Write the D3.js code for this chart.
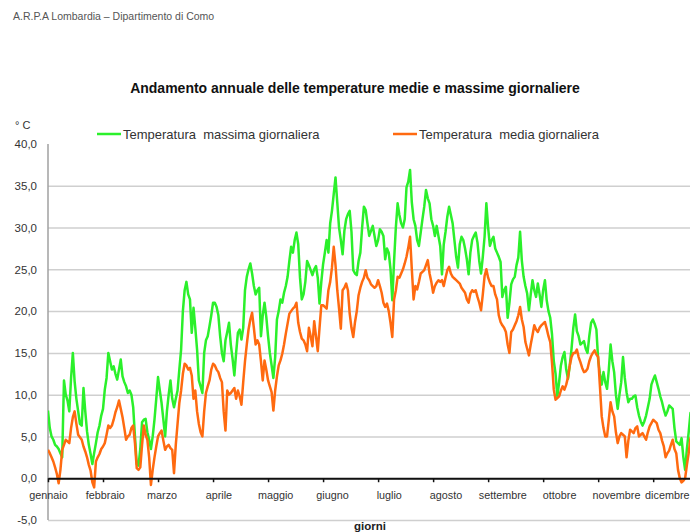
<!DOCTYPE html>
<html>
<head>
<meta charset="utf-8">
<script src="https://cdn.jsdelivr.net/npm/d3@7/dist/d3.min.js"></script>
<style>
  body { margin: 0; background: #fff; }
  svg text { font-family: "Liberation Sans", Arial, sans-serif; }
</style>
</head>
<body>
<svg id="chart" width="690" height="532"></svg>
<script>
// Month names shown along the day axis
const months = ["gennaio", "febbraio", "marzo", "aprile", "maggio", "giugno",
  "luglio", "agosto", "settembre", "ottobre", "novembre", "dicembre"];

// Daily maximum temperature (°C), day 1..365
const tmax = [
  8.1, 6.0, 5.0, 4.6, 4.0, 3.8, 3.5, 3.0, 2.5, 11.7,
  10.0, 9.3, 8.0, 12.0, 15.0, 11.6, 9.5, 8.0, 6.5, 6.3,
  10.8, 8.0, 5.6, 4.0, 2.9, 1.7, 3.0, 4.2, 5.5, 6.3,
  7.5, 8.3, 10.6, 12.0, 15.0, 14.0, 13.0, 13.4, 12.5, 11.8,
  13.0, 14.2, 12.2, 11.5, 11.0, 10.2, 10.5, 10.0, 8.5, 5.0,
  1.7, 1.5, 3.5, 6.7, 7.0, 7.1, 5.5, 4.6, 3.5, 5.0,
  7.0, 9.5, 12.1, 10.5, 9.0, 7.0, 5.0, 8.0, 10.0, 11.7,
  9.5, 8.5, 9.5, 10.5, 13.0, 15.4, 20.0, 22.5, 23.5, 22.0,
  21.4, 17.4, 20.4, 18.0, 15.4, 11.7, 11.0, 10.2, 15.0, 16.5,
  17.0, 18.2, 19.5, 21.0, 21.0, 20.5, 19.5, 17.0, 15.0, 14.0,
  16.5, 17.5, 18.6, 16.0, 14.3, 12.3, 15.0, 17.4, 17.8, 16.6,
  18.0, 22.5, 24.1, 25.0, 25.7, 24.5, 23.0, 22.0, 22.5, 22.8,
  17.0, 19.5, 21.0, 19.3, 17.0, 15.0, 13.5, 12.0, 14.5, 19.0,
  20.0, 21.4, 21.0, 22.2, 23.0, 24.1, 26.0, 27.7, 27.0, 28.5,
  29.4, 28.0, 24.0, 21.4, 22.0, 23.5, 26.0, 25.5, 24.9, 24.3,
  25.0, 25.4, 24.0, 20.9, 23.5, 25.6, 27.0, 28.5, 27.0, 30.5,
  32.0, 34.0, 36.0, 33.0, 30.0, 28.5, 26.8, 29.6, 31.0, 31.6,
  32.0, 29.5, 24.9, 24.5, 24.3, 26.0, 27.0, 30.0, 32.5, 32.1,
  30.5, 29.0, 29.6, 30.2, 29.0, 27.8, 28.5, 29.8, 29.5, 29.0,
  26.2, 27.5, 27.0, 25.0, 21.3, 26.0, 30.0, 32.9, 31.5, 30.5,
  30.0, 31.0, 34.8, 35.5, 36.9, 33.0, 31.0, 30.2, 28.5, 27.8,
  29.4, 31.0, 32.5, 34.5, 33.5, 32.9, 31.0, 30.2, 29.0, 30.2,
  29.0, 27.8, 24.4, 28.0, 29.5, 31.3, 32.5, 31.5, 30.5, 28.5,
  26.5, 25.2, 28.0, 28.9, 28.5, 27.5, 26.2, 24.4, 27.0, 28.5,
  29.0, 29.4, 28.2, 26.0, 24.5, 26.5, 28.9, 32.9, 30.0, 27.8,
  28.5, 28.9, 27.5, 27.0, 26.5, 25.9, 21.7, 22.5, 22.9, 19.2,
  21.0, 23.2, 23.8, 24.1, 25.5, 26.4, 29.5, 26.0, 24.1, 23.0,
  22.1, 20.1, 22.0, 23.7, 22.5, 21.7, 23.3, 22.0, 20.5, 22.5,
  23.7, 21.3, 20.0, 19.2, 17.2, 14.0, 12.5, 9.8, 11.5, 13.5,
  14.5, 15.1, 13.0, 11.9, 13.5, 15.5, 18.0, 19.6, 17.6, 17.0,
  16.0, 16.2, 16.4, 15.5, 15.0, 17.0, 18.6, 19.0, 18.5, 17.8,
  14.2, 12.5, 11.2, 12.7, 11.5, 10.7, 13.0, 16.0, 14.0, 12.7,
  10.0, 8.3, 10.0, 11.5, 14.5, 12.0, 10.3, 9.1, 9.5, 9.5,
  9.8, 9.9, 8.5, 7.5, 6.8, 6.3, 6.8, 7.5, 8.5, 9.5,
  11.2, 11.8, 12.3, 11.5, 10.7, 9.8, 9.1, 8.2, 7.5, 8.0,
  8.7, 8.5, 8.3, 6.0, 4.4, 4.2, 4.0, 4.8, 2.5, 1.0,
  3.5, 5.5, 7.8, 7.0, 6.5
];

// Daily mean temperature (°C), day 1..365
const tmed = [
  3.4, 3.0, 2.5, 2.0, 1.3, 0.5, -0.6, 1.0, 3.4, 4.0,
  4.6, 4.4, 4.2, 6.0, 7.3, 8.0, 6.5, 5.2, 4.9, 4.6,
  3.8, 3.2, 2.5, 1.6, 0.9, -0.5, -1.1, 2.0, 2.5, 2.9,
  3.5, 3.8, 4.2, 5.2, 6.3, 6.0, 6.3, 7.0, 7.9, 8.5,
  9.3, 8.3, 7.3, 6.0, 4.6, 5.0, 5.2, 6.0, 6.3, 4.2,
  1.2, 1.0, 1.3, 4.0, 6.3, 5.2, 4.6, 2.5, -0.8, 1.0,
  2.5, 3.8, 5.0, 5.4, 5.7, 4.5, 3.4, 3.8, 4.0, 3.6,
  3.4, 0.6, 4.0, 6.5, 9.0, 10.5, 12.5, 13.7, 13.5, 13.0,
  13.2, 12.3, 9.5, 10.5, 8.0, 6.5, 5.5, 5.0, 8.0, 10.2,
  11.0, 11.7, 13.0, 13.7, 13.5, 13.0, 12.7, 12.0, 11.5, 8.0,
  5.7, 10.5, 10.0, 10.2, 10.5, 10.8, 9.5, 10.5, 9.8, 8.8,
  11.5, 14.0, 16.0, 17.8, 19.0, 19.8, 18.0, 16.0, 16.5, 16.0,
  14.0, 11.7, 14.1, 13.0, 11.7, 11.0, 10.3, 8.1, 10.5, 12.2,
  13.5, 14.1, 14.9, 16.0, 17.3, 18.5, 19.7, 20.0, 20.3, 20.5,
  21.0, 18.6, 17.5, 16.7, 16.5, 16.0, 15.2, 18.0, 17.0, 15.8,
  18.8, 17.0, 15.2, 18.0, 20.7, 20.7, 20.5, 20.3, 22.5, 23.5,
  25.2, 27.7, 25.5, 22.5, 20.3, 17.9, 22.5, 22.8, 23.3, 22.5,
  19.7, 18.0, 16.9, 18.7, 20.0, 21.9, 22.8, 23.5, 24.0, 24.9,
  24.0, 23.7, 23.2, 23.0, 22.8, 23.0, 23.7, 23.0, 22.2, 21.0,
  20.5, 20.9, 20.0, 18.6, 16.9, 21.4, 22.5, 24.1, 24.0, 24.5,
  25.0, 25.7, 26.5, 27.6, 28.9, 25.0, 21.4, 23.0, 22.6, 23.5,
  24.5, 24.7, 24.9, 25.5, 26.1, 24.5, 23.5, 22.2, 23.0, 23.4,
  23.7, 23.5, 23.7, 23.0, 24.0, 24.9, 25.3, 24.5, 24.1, 23.9,
  23.7, 23.5, 23.3, 22.8, 22.5, 22.2, 21.4, 21.0, 22.1, 22.5,
  22.3, 22.5, 21.7, 21.0, 20.1, 22.0, 24.2, 25.0, 24.0, 23.4,
  23.0, 23.0, 22.0, 21.4, 19.5, 18.7, 18.3, 18.0, 17.5, 16.0,
  15.0, 17.5, 17.8, 18.3, 18.8, 19.5, 20.5, 19.0, 18.1, 16.3,
  15.5, 14.7, 16.0, 17.1, 18.3, 17.8, 17.5, 18.0, 18.3, 18.5,
  18.7, 17.9, 17.0, 16.3, 13.8, 10.6, 9.4, 9.6, 9.8, 10.5,
  11.0, 10.6, 11.2, 12.1, 13.5, 14.5, 15.0, 15.0, 15.4, 14.5,
  13.9, 13.2, 12.7, 12.8, 13.1, 14.0, 14.6, 15.0, 15.3, 14.8,
  14.5, 11.0, 7.4, 6.0, 5.0, 5.0, 7.0, 9.1, 8.0, 7.4,
  5.5, 4.2, 5.0, 5.4, 5.2, 5.0, 2.5, 4.5, 5.8, 5.6,
  5.4, 6.0, 6.2, 5.0, 5.2, 5.4, 5.0, 4.6, 5.5, 6.2,
  6.6, 7.0, 6.8, 6.6, 5.8, 5.4, 4.5, 3.8, 2.5, 3.0,
  3.3, 4.0, 4.6, 3.5, 3.0, 1.0, 0.0, -0.5, -0.3, 0.0,
  1.6, 3.0, 4.8, 4.0, 3.5
];

// Temperature axis ticks
const yTicks = [-5, 0, 5, 10, 15, 20, 25, 30, 35, 40];

// Series names for the legend
const seriesNames = ["Temperatura  massima giornaliera", "Temperatura  media giornaliera"];

const days = d3.range(1, tmax.length + 1);
const tickDays = d3.range(0, 12).map(i => 1 + i * 31);
const labelDays = d3.range(0, 12).map(i => 1 + i * 32);

const svg = d3.select("#chart");
const W = 690, H = 532;
const plot = { left: 48, right: 694, top: 144, bottom: 520 };

const x = d3.scaleLinear().domain([1, 365]).range([plot.left, plot.right]);
const y = d3.scaleLinear().domain([-5, 40]).range([plot.bottom, plot.top]);

const it = d3.formatLocale({ decimal: ",", thousands: ".", grouping: [3], currency: ["", " €"], minus: "-" });
const fmt = it.format(".1f");

// Header and title
svg.append("text").attr("x", 13).attr("y", 20)
  .attr("font-size", 10.5).attr("fill", "#555")
  .text("A.R.P.A Lombardia – Dipartimento di Como");

svg.append("text").attr("x", 355).attr("y", 93)
  .attr("text-anchor", "middle").attr("font-size", 14).attr("font-weight", "bold").attr("fill", "#111")
  .text("Andamento annuale delle temperature medie e massime giornaliere");

// Unit label
svg.append("text").attr("x", 15).attr("y", 129)
  .attr("font-size", 11).attr("fill", "#333").text("° C");

// Horizontal grid and value labels
const yAxis = d3.axisLeft(y).tickValues(yTicks)
  .tickSize(-(W - plot.left)).tickPadding(11).tickFormat(fmt);
const gy = svg.append("g").attr("transform", `translate(${plot.left},0)`).call(yAxis);
gy.select(".domain").remove();
gy.selectAll(".tick line")
  .attr("stroke", "#cfcfcf").attr("stroke-width", 1.5)
  .attr("opacity", d => d === 40 ? 0 : 1);
gy.selectAll(".tick text")
  .attr("font-size", 11.5).attr("fill", "#333")
  .style("font-family", "'Liberation Sans', Arial, sans-serif");

// Left axis line
svg.append("line")
  .attr("x1", plot.left).attr("x2", plot.left)
  .attr("y1", plot.top).attr("y2", plot.bottom)
  .attr("stroke", "#a0a0a0").attr("stroke-width", 1.5);

// Series lines
svg.append("defs").append("clipPath").attr("id", "plotClip")
  .append("rect").attr("x", plot.left).attr("y", 0).attr("width", W - plot.left).attr("height", H);

const line = d3.line().x((d, i) => x(days[i])).y(d => y(d));
const gLines = svg.append("g").attr("clip-path", "url(#plotClip)");
gLines.append("path").datum(tmax).attr("d", line)
  .attr("fill", "none").attr("stroke", "#2bf02b").attr("stroke-width", 2.5).attr("stroke-linejoin", "round");
gLines.append("path").datum(tmed).attr("d", line)
  .attr("fill", "none").attr("stroke", "#ff6a10").attr("stroke-width", 2.5).attr("stroke-linejoin", "round");

// Zero line with month tick marks
const xAxis = d3.axisBottom(x).tickValues(tickDays).tickSize(4).tickSizeOuter(0).tickFormat("");
const gx = svg.append("g").attr("transform", `translate(0,${y(0)})`).call(xAxis);
gx.select(".domain").attr("stroke", "#111").attr("stroke-width", 2);
gx.selectAll(".tick line").attr("stroke", "#111").attr("stroke-width", 1.5);

// Month labels
const xLab = d3.axisBottom(x).tickValues(labelDays).tickSize(0).tickPadding(13)
  .tickFormat((d, i) => months[i]);
const gxl = svg.append("g").attr("transform", `translate(0,${y(0)})`).call(xLab);
gxl.select(".domain").remove();
gxl.selectAll(".tick text")
  .attr("font-size", 10.8).attr("fill", "#333")
  .style("font-family", "'Liberation Sans', Arial, sans-serif");
// keep the last label inside the right edge
gxl.selectAll(".tick").filter((d, i) => i === months.length - 1)
  .select("text").attr("text-anchor", "end").attr("x", W - 1 - x(labelDays[months.length - 1]));

// Axis title
svg.append("text").attr("x", 370).attr("y", 530)
  .attr("text-anchor", "middle").attr("font-size", 11.5).attr("font-weight", "bold").attr("fill", "#222")
  .text("giorni");

// Legend
const legend = [
  { name: seriesNames[0], color: "#2bf02b", x: 97 },
  { name: seriesNames[1], color: "#ff6a10", x: 393 }
];
const gl = svg.append("g");
legend.forEach(l => {
  gl.append("line").attr("x1", l.x).attr("x2", l.x + 24).attr("y1", 134).attr("y2", 134)
    .attr("stroke", l.color).attr("stroke-width", 2.5);
  gl.append("text").attr("x", l.x + 26).attr("y", 138.5)
    .attr("font-size", 13).attr("fill", "#333")
    .attr("xml:space", "preserve")
    .text(l.name);
});
</script>
</body>
</html>
